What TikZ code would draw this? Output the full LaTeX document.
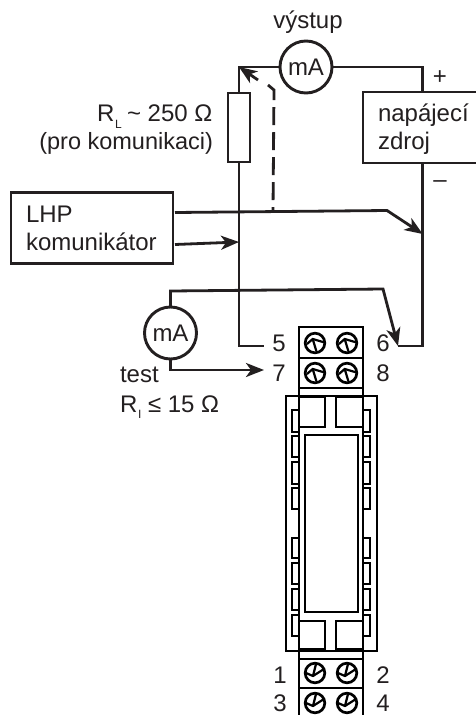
\documentclass[tikz,border=0pt]{standalone}
\usepackage{fontspec}
\setmainfont{Liberation Sans}
\usetikzlibrary{arrows.meta,calc}
\definecolor{ink}{HTML}{231F20}
\tikzset{
  wire/.style={draw=ink,line width=2.8pt,line join=miter},
  part/.style={draw=ink,line width=2.9pt,fill=white,inner sep=0pt,outer sep=0pt},
  meter/.style={part,circle,minimum size=52pt,font=\fontsize{24}{26}\selectfont,text=ink},
  box/.style={part,rectangle},
  lab/.style={inner sep=0pt,outer sep=0pt,anchor=base west,font=\fontsize{24}{26}\selectfont,text=ink},
  labr/.style={lab,anchor=base east},
  labc/.style={lab,anchor=base},
  subs/.style={lab,font=\fontsize{12}{12}\selectfont},
  head/.style={-{Stealth[length=18pt,width=14pt,inset=5pt]}},
  rail/.style={draw=black,line width=2.9pt,fill=white},
  railb/.style={draw=black,line width=2.9pt}
}
\newcommand{\screwtop}[1]{%
  \draw[railb,line width=2.7pt] (#1) circle[radius=9.8pt];
  \draw[draw=black,line width=2.2pt] ($(#1)+(-8,1)$) -- ($(#1)+(-2.3,-4)$) -- ($(#1)+(9,-0.7)$);
  \draw[draw=black,line width=2.2pt] ($(#1)+(-2.3,-4)$) -- ($(#1)+(1.3,8)$);
}
\newcommand{\screwbot}[1]{%
  \draw[railb,line width=2.7pt] (#1) circle[radius=9.8pt];
  \draw[draw=black,line width=2.2pt] ($(#1)+(-9,0)$) -- ($(#1)+(-2,3)$) -- ($(#1)+(9,-4)$);
  \draw[draw=black,line width=2.2pt] ($(#1)+(1,-9)$) -- ($(#1)+(-2,3)$);
}
\begin{document}
\begin{tikzpicture}[x=1pt,y=-1pt]
\useasboundingbox (0,0) rectangle (476,715);
\clip (0,0) rectangle (476,715);
\fill[white] (0,0) rectangle (476,715);
% named junctions
\coordinate (tl) at (239,67);
\coordinate (tr) at (422.7,67);
\coordinate (t5) at (264,346);
\coordinate (c5) at (239,346);
\coordinate (c6) at (422.7,346);
\coordinate (t6) at (398,346);
\coordinate (k6) at (383,289);
\coordinate (k0) at (170.5,291);
\coordinate (t7) at (264,370);
\coordinate (k7) at (170.5,370);
\coordinate (ja) at (422.7,234);
\coordinate (jb) at (387,210.5);
\coordinate (la) at (175,212.5);
\coordinate (lb) at (175,244.5);
\coordinate (jc) at (239,242);
\coordinate (da) at (273,211);
\coordinate (db) at (274,90);
\coordinate (dc) at (268,85);
\coordinate (aa) at (258,80);
% parts
\node[meter] (m1) at (306,67) {mA};
\node[meter] (m2) at (170.5,333) {mA};
\node[box,minimum width=22pt,minimum height=69pt] (res) at (239,127.5) {};
\node[box,minimum width=130pt,minimum height=71pt] (sup) at (428,127.5) {};
\node[box,minimum width=162pt,minimum height=71pt] (lhp) at (92,228.3) {};
% wires
\draw[wire] (m1.west) -- (tl) -- (res.north);
\draw[wire] (m1.east) -- (tr) -- (tr |- sup.north);
\draw[wire] (res.south) -- (c5) -- (t5);
\draw[wire] (tr |- sup.south) -- (c6) -- (t6);
\draw[wire,dash pattern=on 18pt off 7pt] (dc) -- (db) -- (da);
\draw[wire,head] (aa) -- (tl);
\draw[wire,head] (la) -- (jb) -- (ja);
\draw[wire,head] (lb) -- (jc);
\draw[wire,head] (m2.south) -- (k7) -- (t7);
\draw[wire,head] (m2.north) -- (k0) -- (k6) -- (t6);
% texts
\node[labc] (t1) at (308,28) {výstup};
\node[labc] (plus) at (440,84) {+};
\node[labc] (minus) at (440,187) {–};
\node[lab] (t2) at (378,121) {napájecí};
\node[lab] (t3) at (378,149) {zdroj};
\node[lab] (t4) at (26,222) {LHP};
\node[lab] (t5t) at (26,250) {komunikátor};
\node[lab] (r1) at (97,121) {R};
\node[subs] (r2) at (115,128) {L};
\node[lab] (r3) at (127,121) {\char"007E\ 250 Ω};
\node[labr,font=\fontsize{23.5}{26}\selectfont] (r4) at (213,149) {(pro komunikaci)};
\node[lab] (t6t) at (120,382) {test};
\node[lab] (t7t) at (120,412) {R};
\node[subs] (t8) at (138,418) {I};
\node[lab] (t9) at (148,412) {≤ 15 Ω};
\node[labc] (n5) at (279,351) {5};
\node[labc] (n7) at (279,381) {7};
\node[labc] (n6) at (383,351) {6};
\node[labc] (n8) at (383,381) {8};
\node[labc] (n1) at (280,683) {1};
\node[labc] (n3) at (280,711) {3};
\node[labc] (n2) at (383,683) {2};
\node[labc] (n4) at (383,711) {4};
% device
\draw[rail] (286,396) rectangle (377,651);
\foreach \a/\b in {410/432,436/457,462/484,488/509,538/558,563/584,589/610,615/636}{
  \draw[rail,line width=2.7pt] (292,\a) rectangle (299,\b);
  \draw[rail,line width=2.7pt] (363,\a) rectangle (370,\b);
}
\draw[railb] (299,388) -- (299,660);
\draw[railb] (363,388) -- (363,660);
\draw[rail] (299,397) rectangle (325,427);
\draw[rail] (336,397) rectangle (363,427);
\draw[rail] (299,621) rectangle (325,649);
\draw[rail] (336,621) rectangle (363,649);
\draw[rail] (305,435) rectangle (358,612);
\draw[rail] (299,327) rectangle (363,358);
\draw[rail] (299,358) rectangle (363,388);
\draw[rail] (299,659) rectangle (363,688);
\draw[rail] (299,688) rectangle (363,720);
\foreach \x in {315,347}{
  \screwtop{\x,343}
  \screwtop{\x,373}
  \screwbot{\x,673}
  \screwbot{\x,703}
}
\end{tikzpicture}
\end{document}
